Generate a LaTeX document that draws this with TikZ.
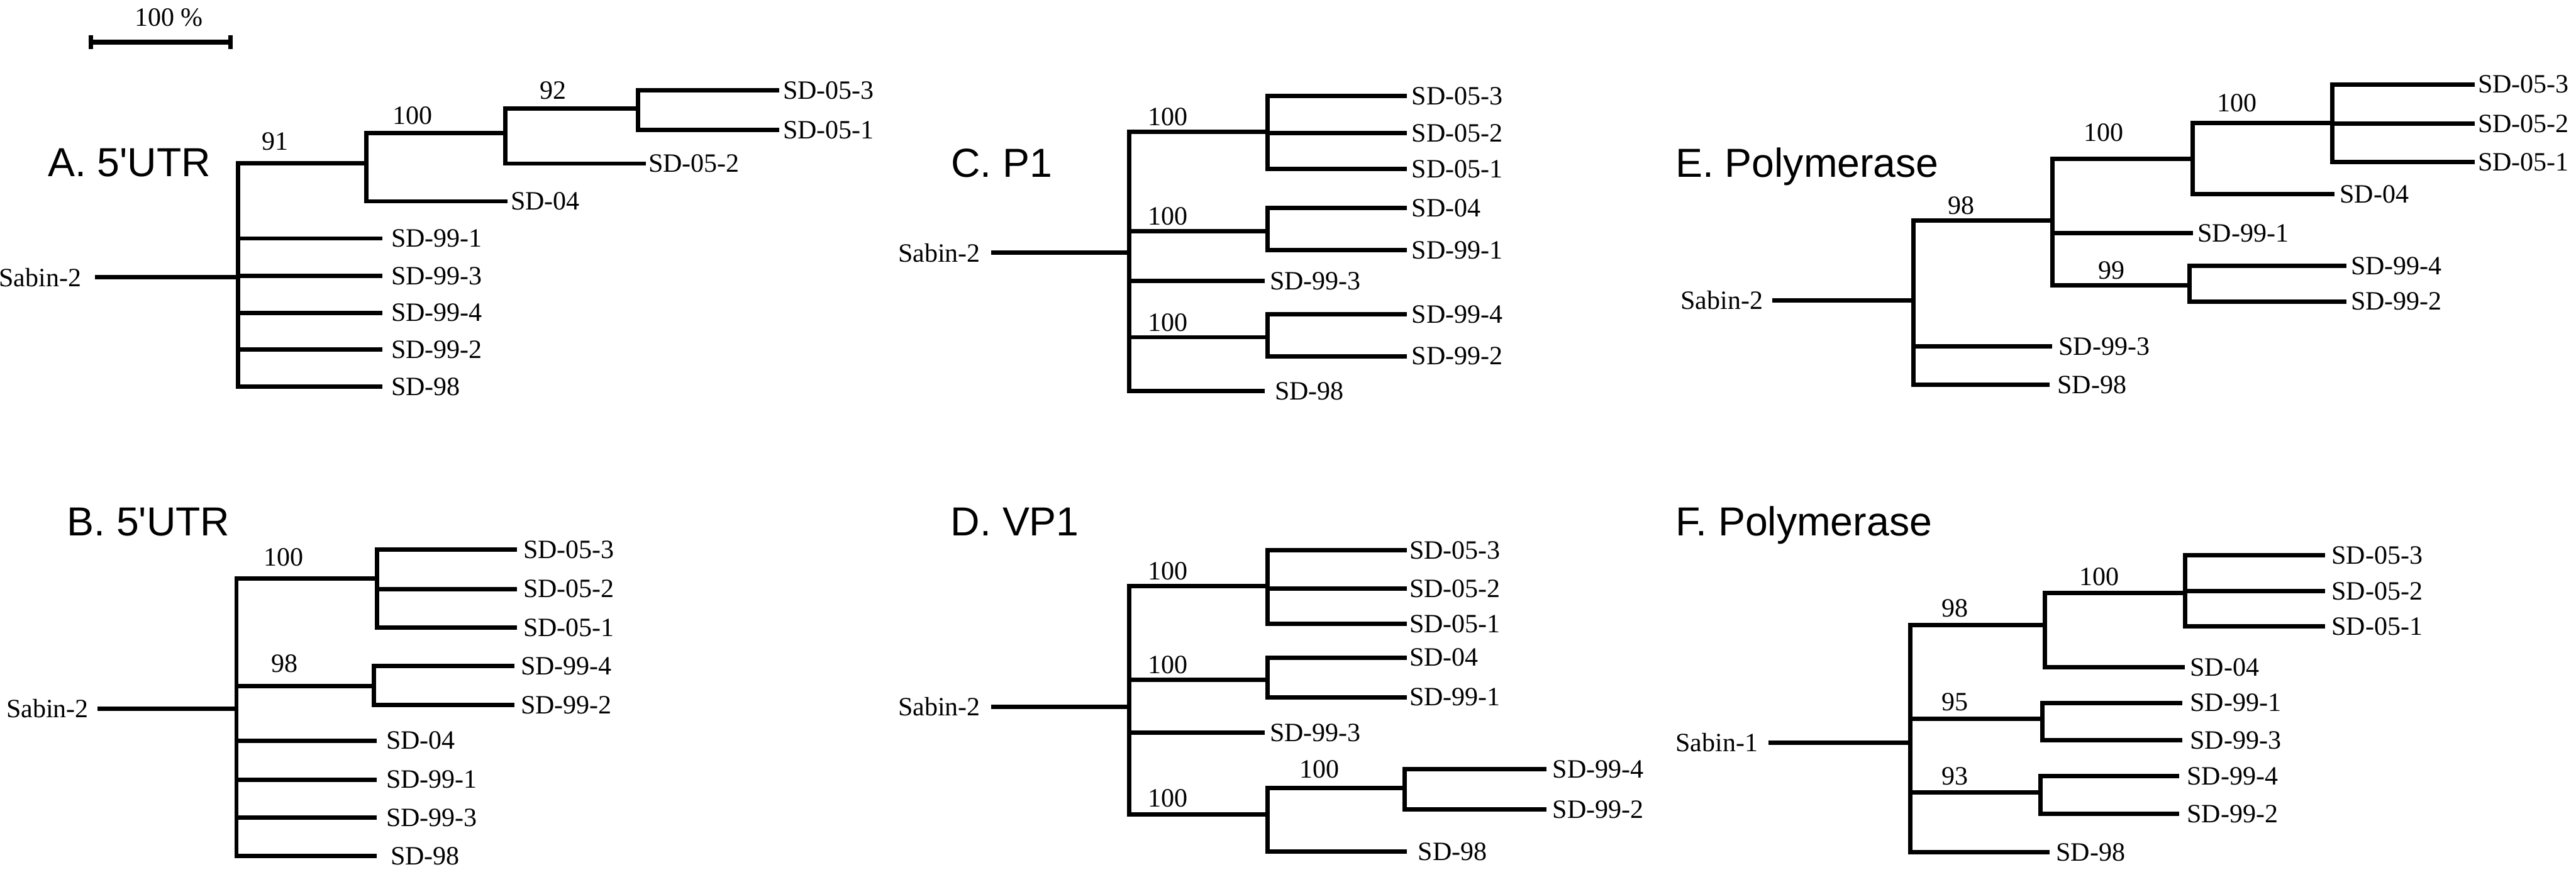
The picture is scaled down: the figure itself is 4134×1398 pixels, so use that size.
\documentclass[tikz,border=0pt]{standalone}
\usepackage{fontspec}
\setmainfont{Liberation Serif}
\newfontfamily\leaffam{Liberation Serif}
\newfontfamily\titlefont{Liberation Sans}
\newcommand\lf{\leaffam\fontsize{10.6pt}{12pt}\selectfont}
\newcommand\tf{\titlefont\fontsize{16.25pt}{19pt}\selectfont}
\tikzset{
  br/.style={line width=1.75pt},
  leaflab/.style={anchor=west,inner sep=0pt,font=\lf},
  rootlab/.style={anchor=east,inner sep=0pt,font=\lf},
  boot/.style={anchor=center,inner sep=0pt,font=\lf},
  paneltitle/.style={anchor=base west,inner sep=0pt,font=\tf},
}
\newcommand\leaf[5]{\coordinate (#1) at (#2,#3);\node[leaflab] (#1t) at (#4,#3) {#5};}
\begin{document}
\begin{tikzpicture}[x=0.25pt,y=-0.25pt]
\useasboundingbox (0,0) rectangle (4134,1398);
% scale bar
\coordinate (sbl) at (142,68);
\coordinate (sbr) at (373,68);
\draw[line width=2pt] (sbl) -- (sbr);
\fill (142,57) rectangle (149,79);
\fill (366,57) rectangle (373,79);
\node[boot] (sbt) at (271,28) {100 \%};

% ================= Panel A
\node[paneltitle] (At) at (76,283.5) {A. 5'UTR};
\coordinate (Ar) at (152,445);
\coordinate (A0) at (382,445);
\coordinate (A91) at (587.5,261.5);
\coordinate (A100) at (811,213.4);
\coordinate (A92) at (1024,174);
\leaf{Aa}{1250}{145}{1256}{SD-05-3}
\leaf{Ab}{1250}{208.3}{1256}{SD-05-1}
\leaf{Ac}{1036.5}{262.4}{1040}{SD-05-2}
\leaf{Ad}{814}{323}{819}{SD-04}
\leaf{Ae}{614}{382.5}{627}{SD-99-1}
\leaf{Af}{614}{443}{627}{SD-99-3}
\leaf{Ag}{614}{501.7}{627}{SD-99-4}
\leaf{Ah}{614}{561}{627}{SD-99-2}
\leaf{Ai}{614}{620}{627}{SD-98}
\node[rootlab] (As) at (131,445) {Sabin-2};
\draw[br] (Ar) -- (A0);
\foreach \c in {A91,Ae,Af,Ag,Ah,Ai} \draw[br] (A0) |- (\c);
\foreach \c in {A100,Ad} \draw[br] (A91) |- (\c);
\foreach \c in {A92,Ac} \draw[br] (A100) |- (\c);
\foreach \c in {Aa,Ab} \draw[br] (A92) |- (\c);
\node[boot] (Ab1) at (442,227) {91};
\node[boot] (Ab2) at (662,185.6) {100};
\node[boot] (Ab3) at (888,145) {92};

% ================= Panel C
\node[paneltitle] (Ct) at (1525.5,284) {C. P1};
\coordinate (Cr) at (1590.7,405.5);
\coordinate (C0) at (1812,405.5);
\coordinate (C1) at (2034,211.2);
\coordinate (C2) at (2034,370.8);
\coordinate (C3) at (2034,541);
\leaf{Ca}{2258}{154}{2265}{SD-05-3}
\leaf{Cb}{2258}{213.8}{2265}{SD-05-2}
\leaf{Cc}{2258}{271}{2265}{SD-05-1}
\leaf{Cd}{2258}{334}{2265}{SD-04}
\leaf{Ce}{2258}{401}{2265}{SD-99-1}
\leaf{Cf}{2030}{451}{2037}{SD-99-3}
\leaf{Cg}{2258}{504}{2265}{SD-99-4}
\leaf{Ch}{2258}{571.5}{2265}{SD-99-2}
\leaf{Ci}{2030}{627.5}{2045}{SD-98}
\node[rootlab] (Cs) at (1574,405.5) {Sabin-2};
\draw[br] (Cr) -- (C0);
\foreach \c in {C1,C2,Cf,C3,Ci} \draw[br] (C0) |- (\c);
\foreach \c in {Ca,Cb,Cc} \draw[br] (C1) |- (\c);
\foreach \c in {Cd,Ce} \draw[br] (C2) |- (\c);
\foreach \c in {Cg,Ch} \draw[br] (C3) |- (\c);
\node[boot] (Cb1) at (1874,187.3) {100};
\node[boot] (Cb2) at (1874,347) {100};
\node[boot] (Cb3) at (1874,518) {100};

% ================= Panel E
\node[paneltitle] (Et) at (2688,284) {E. Polymerase};
\coordinate (Er) at (2844,482);
\coordinate (E0) at (3071,482);
\coordinate (E98) at (3293.6,354);
\coordinate (E100a) at (3519,255);
\coordinate (E99) at (3514,457.5);
\coordinate (E100b) at (3743,197.5);
\leaf{Ea}{3971}{135.3}{3976}{SD-05-3}
\leaf{Eb}{3971}{198.5}{3976}{SD-05-2}
\leaf{Ec}{3971}{260.3}{3976}{SD-05-1}
\leaf{Ed}{3746}{311.8}{3754}{SD-04}
\leaf{Ee}{3519}{373.8}{3526}{SD-99-1}
\leaf{Ef}{3766}{426.5}{3772}{SD-99-4}
\leaf{Eg}{3766}{483.5}{3772}{SD-99-2}
\leaf{Eh}{3293.6}{555.5}{3303}{SD-99-3}
\leaf{Ei}{3289}{617}{3301}{SD-98}
\node[rootlab] (Es) at (2830,482) {Sabin-2};
\draw[br] (Er) -- (E0);
\foreach \c in {E98,Eh,Ei} \draw[br] (E0) |- (\c);
\foreach \c in {E100a,Ee,E99} \draw[br] (E98) |- (\c);
\foreach \c in {E100b,Ed} \draw[br] (E100a) |- (\c);
\foreach \c in {Ea,Eb,Ec} \draw[br] (E100b) |- (\c);
\foreach \c in {Ef,Eg} \draw[br] (E99) |- (\c);
\node[boot] (Eb1) at (3147.5,330) {98};
\node[boot] (Eb2) at (3376,212.5) {100};
\node[boot] (Eb3) at (3389,434) {99};
\node[boot] (Eb4) at (3590,165) {100};

% ================= Panel B
\node[paneltitle] (Bt) at (106.5,859) {B. 5'UTR};
\coordinate (Br) at (156,1137);
\coordinate (B0) at (379.5,1137);
\coordinate (B100) at (605,928.4);
\coordinate (B98) at (600,1100.6);
\leaf{Ba}{830}{881.6}{839}{SD-05-3}
\leaf{Bb}{830}{944.8}{839}{SD-05-2}
\leaf{Bc}{830}{1007}{839}{SD-05-1}
\leaf{Bd}{826}{1068.6}{835}{SD-99-4}
\leaf{Be}{826}{1131}{835}{SD-99-2}
\leaf{Bf}{605}{1188}{619}{SD-04}
\leaf{Bg}{605}{1250.6}{619}{SD-99-1}
\leaf{Bh}{605}{1312}{619}{SD-99-3}
\leaf{Bi}{605}{1373}{626}{SD-98}
\node[rootlab] (Bs) at (143,1137) {Sabin-2};
\draw[br] (Br) -- (B0);
\foreach \c in {B100,B98,Bf,Bg,Bh,Bi} \draw[br] (B0) |- (\c);
\foreach \c in {Ba,Bb,Bc} \draw[br] (B100) |- (\c);
\foreach \c in {Bd,Be} \draw[br] (B98) |- (\c);
\node[boot] (Bb1) at (455,893.6) {100};
\node[boot] (Bb2) at (457,1065) {98};

% ================= Panel D
\node[paneltitle] (Dt) at (1525,859) {D. VP1};
\coordinate (Dr) at (1590.7,1134);
\coordinate (D0) at (1812,1134);
\coordinate (D1) at (2034,940.4);
\coordinate (D2) at (2034,1090.9);
\coordinate (D3) at (2034,1306.3);
\coordinate (D4) at (2254,1264.5);
\leaf{Da}{2258}{882.5}{2261}{SD-05-3}
\leaf{Db}{2258}{944}{2261}{SD-05-2}
\leaf{Dc}{2258}{1000.5}{2261}{SD-05-1}
\leaf{Dd}{2258}{1054.8}{2261}{SD-04}
\leaf{De}{2258}{1118.4}{2261}{SD-99-1}
\leaf{Df}{2030}{1175.4}{2037}{SD-99-3}
\leaf{Dg}{2482}{1234.2}{2491}{SD-99-4}
\leaf{Dh}{2482}{1298.7}{2491}{SD-99-2}
\leaf{Di}{2258}{1366.4}{2275}{SD-98}
\node[rootlab] (Ds) at (1574,1134) {Sabin-2};
\draw[br] (Dr) -- (D0);
\foreach \c in {D1,D2,Df,D3} \draw[br] (D0) |- (\c);
\foreach \c in {Da,Db,Dc} \draw[br] (D1) |- (\c);
\foreach \c in {Dd,De} \draw[br] (D2) |- (\c);
\foreach \c in {D4,Di} \draw[br] (D3) |- (\c);
\foreach \c in {Dg,Dh} \draw[br] (D4) |- (\c);
\node[boot] (Db1) at (1874,916) {100};
\node[boot] (Db2) at (1874,1067) {100};
\node[boot] (Db3) at (1874,1281) {100};
\node[boot] (Db4) at (2117,1234) {100};

% ================= Panel F
\node[paneltitle] (Ft) at (2688,859) {F. Polymerase};
\coordinate (Fr) at (2838,1191);
\coordinate (F0) at (3066,1191);
\coordinate (F98) at (3282,1002.7);
\coordinate (F100) at (3506.5,951.5);
\coordinate (F95) at (3277.5,1153);
\coordinate (F93) at (3274.6,1271.5);
\leaf{Fa}{3731}{890.5}{3741}{SD-05-3}
\leaf{Fb}{3731}{948.4}{3741}{SD-05-2}
\leaf{Fc}{3731}{1005}{3741}{SD-05-1}
\leaf{Fd}{3506.5}{1070.4}{3514}{SD-04}
\leaf{Fe}{3502}{1127.4}{3514}{SD-99-1}
\leaf{Ff}{3502}{1187.4}{3514}{SD-99-3}
\leaf{Fg}{3497}{1245.3}{3509}{SD-99-4}
\leaf{Fh}{3497}{1305.4}{3509}{SD-99-2}
\leaf{Fi}{3289}{1367}{3299}{SD-98}
\node[rootlab] (Fs) at (2822,1191) {Sabin-1};
\draw[br] (Fr) -- (F0);
\foreach \c in {F98,F95,F93,Fi} \draw[br] (F0) |- (\c);
\foreach \c in {F100,Fd} \draw[br] (F98) |- (\c);
\foreach \c in {Fa,Fb,Fc} \draw[br] (F100) |- (\c);
\foreach \c in {Fe,Ff} \draw[br] (F95) |- (\c);
\foreach \c in {Fg,Fh} \draw[br] (F93) |- (\c);
\node[boot] (Fb1) at (3137,976) {98};
\node[boot] (Fb2) at (3369,925) {100};
\node[boot] (Fb3) at (3137,1126.5) {95};
\node[boot] (Fb4) at (3137,1245.3) {93};
\end{tikzpicture}
\end{document}
